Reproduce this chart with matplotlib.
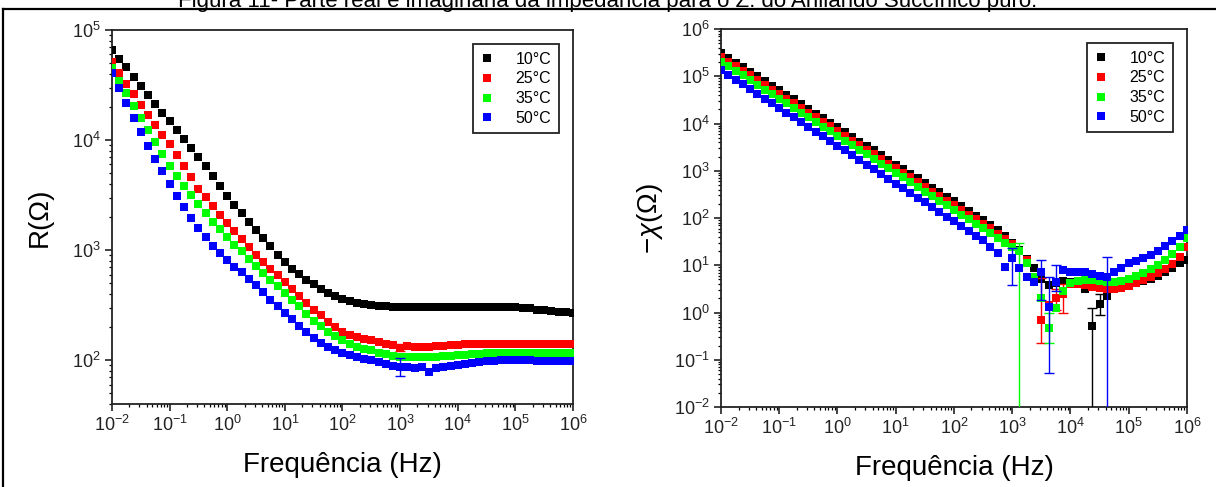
import numpy as np
import matplotlib
matplotlib.use("Agg")
import matplotlib.pyplot as plt
from matplotlib.lines import Line2D
from matplotlib.ticker import LogLocator

plt.rcParams['font.family'] = ['Liberation Sans', 'DejaVu Sans']
plt.rcParams['mathtext.fontset'] = 'custom'
plt.rcParams['mathtext.rm'] = 'Liberation Sans'
plt.rcParams['mathtext.it'] = 'Liberation Sans:italic'

# sweep: 8 points per decade, 10^-2 .. 10^6 Hz
freq = np.logspace(-2, 6, 65)

labels = ['10°C', '25°C', '35°C', '50°C']
colors = ['#000000', '#ff0000', '#00ff00', '#0000ff']

# real part R (log10 Ohm)
R_10C = [4.82, 4.74, 4.66, 4.57, 4.49, 4.41, 4.33, 4.25,
         4.17, 4.09, 4.01, 3.93, 3.85, 3.76, 3.67, 3.58,
         3.49, 3.41, 3.34, 3.26, 3.18, 3.11, 3.04, 2.96,
         2.89, 2.83, 2.78, 2.73, 2.69, 2.65, 2.61, 2.58,
         2.56, 2.54, 2.52, 2.51, 2.50, 2.49, 2.49, 2.48,
         2.48, 2.48, 2.48, 2.48, 2.48, 2.48, 2.48, 2.48,
         2.48, 2.48, 2.48, 2.48, 2.48, 2.48, 2.48, 2.48,
         2.48, 2.475, 2.47, 2.46, 2.455, 2.45, 2.44, 2.435,
         2.43]
R_25C = [4.71, 4.61, 4.51, 4.42, 4.32, 4.23, 4.14, 4.05,
         3.96, 3.86, 3.76, 3.66, 3.56, 3.48, 3.40, 3.32,
         3.245, 3.17, 3.10, 3.03, 2.955, 2.89, 2.83, 2.77,
         2.71, 2.65, 2.58, 2.52, 2.46, 2.41, 2.35, 2.30,
         2.26, 2.23, 2.21, 2.19, 2.18, 2.165, 2.15, 2.14,
         2.11, 2.13, 2.12, 2.12, 2.12, 2.125, 2.13, 2.135,
         2.14, 2.145, 2.145, 2.145, 2.145, 2.145, 2.145, 2.145,
         2.145, 2.145, 2.145, 2.145, 2.145, 2.145, 2.145, 2.145,
         2.145]
R_35C = [4.655, 4.54, 4.43, 4.31, 4.20, 4.09, 3.98, 3.87,
         3.76, 3.67, 3.58, 3.50, 3.42, 3.34, 3.26, 3.19,
         3.12, 3.05, 2.99, 2.92, 2.855, 2.79, 2.73, 2.67,
         2.61, 2.55, 2.49, 2.42, 2.36, 2.31, 2.26, 2.22,
         2.18, 2.15, 2.12, 2.10, 2.09, 2.07, 2.055, 2.04,
         2.03, 2.03, 2.025, 2.025, 2.027, 2.03, 2.035, 2.04,
         2.045, 2.05, 2.055, 2.06, 2.064, 2.064, 2.064, 2.064,
         2.064, 2.064, 2.064, 2.064, 2.064, 2.064, 2.064, 2.064,
         2.064]
R_50C = [4.61, 4.47, 4.34, 4.20, 4.07, 3.95, 3.83, 3.72,
         3.60, 3.49, 3.39, 3.29, 3.20, 3.12, 3.04, 2.97,
         2.91, 2.85, 2.80, 2.74, 2.68, 2.62, 2.55, 2.49,
         2.43, 2.37, 2.31, 2.26, 2.20, 2.16, 2.12, 2.09,
         2.07, 2.05, 2.03, 2.015, 2.00, 1.985, 1.97, 1.95,
         1.94, 1.935, 1.93, 1.935, 1.89, 1.93, 1.935, 1.945,
         1.955, 1.965, 1.975, 1.985, 1.99, 1.995, 2.0, 2.0,
         2.0, 2.0, 2.0, 1.995, 1.995, 1.99, 1.99, 1.99,
         1.99]

# imaginary part -X (log10 Ohm), right panel
X_10C = [5.49, 5.39, 5.29, 5.20, 5.10, 5.00, 4.90, 4.80,
         4.70, 4.61, 4.51, 4.41, 4.31, 4.21, 4.11, 4.02,
         3.92, 3.82, 3.72, 3.62, 3.53, 3.43, 3.33, 3.23,
         3.13, 3.04, 2.94, 2.84, 2.74, 2.64, 2.55, 2.45,
         2.35, 2.25, 2.15, 2.05, 1.96, 1.85, 1.74, 1.62,
         1.48, 1.32, 1.14, 0.95, 0.70, 0.58, 0.62, 0.66,
         0.64, 0.60, 0.50, -0.29, 0.18, 0.35, 0.52, 0.55,
         0.58, 0.62, 0.66, 0.71, 0.78, 0.86, 0.95, 1.04,
         1.11]
X_25C = [5.41, 5.31, 5.21, 5.12, 5.02, 4.92, 4.82, 4.72,
         4.62, 4.53, 4.43, 4.33, 4.23, 4.13, 4.03, 3.94,
         3.84, 3.74, 3.64, 3.54, 3.45, 3.35, 3.25, 3.15,
         3.05, 2.96, 2.86, 2.76, 2.66, 2.56, 2.47, 2.37,
         2.27, 2.17, 2.07, 1.98, 1.88, 1.78, 1.67, 1.56,
         1.44, 1.30, 1.12, 0.75, -0.15, 0.15, 0.30, 0.40,
         0.60, 0.60, 0.58, 0.55, 0.52, 0.50, 0.50, 0.52,
         0.56, 0.62, 0.68, 0.75, 0.83, 0.92, 1.03, 1.18,
         1.39]
X_35C = [5.31, 5.21, 5.11, 5.02, 4.92, 4.82, 4.72, 4.62,
         4.52, 4.43, 4.33, 4.23, 4.13, 4.03, 3.93, 3.84,
         3.74, 3.64, 3.54, 3.44, 3.35, 3.25, 3.15, 3.05,
         2.95, 2.86, 2.76, 2.66, 2.56, 2.46, 2.37, 2.27,
         2.17, 2.07, 1.97, 1.88, 1.78, 1.68, 1.58, 1.48,
         1.38, 1.30, 1.05, 0.75, 0.30, -0.33, 0.10, 0.45,
         0.62, 0.66, 0.68, 0.68, 0.66, 0.65, 0.65, 0.67,
         0.71, 0.77, 0.84, 0.92, 1.01, 1.11, 1.23, 1.38,
         1.58]
X_50C = [5.13, 5.03, 4.93, 4.83, 4.73, 4.63, 4.53, 4.43,
         4.33, 4.23, 4.13, 4.03, 3.93, 3.83, 3.73, 3.63,
         3.53, 3.43, 3.33, 3.23, 3.13, 3.03, 2.93, 2.83,
         2.73, 2.63, 2.53, 2.43, 2.33, 2.23, 2.13, 2.03,
         1.93, 1.83, 1.73, 1.63, 1.53, 1.39, 1.26, 0.96,
         1.15, 0.95, 0.75, 0.65, 0.86, 0.12, 0.65, 0.90,
         0.86, 0.86, 0.86, 0.82, 0.78, 0.75, 0.85, 0.95,
         1.05, 1.10, 1.16, 1.22, 1.30, 1.40, 1.52, 1.63,
         1.75]

# error bars: (series index, point index, log10 low, log10 high)
R_errbars = [(1, 40, 2.08, 2.15), (3, 40, 1.86, 2.02)]
X_errbars = [(2, 41, -3.0, 1.47), (2, 45, -0.65, 0.0),
             (1, 44, -0.65, 0.73), (1, 46, 0.05, 0.50), (1, 47, 0.0, 0.60),
             (0, 51, -3.0, 0.10), (0, 52, -0.05, 0.40),
             (3, 40, 0.58, 1.37), (3, 44, 0.26, 1.11), (3, 45, -1.28, 0.75),
             (3, 46, 0.45, 1.00), (3, 53, -3.0, 1.17)]

R_data = [R_10C, R_25C, R_35C, R_50C]
X_data = [X_10C, X_25C, X_35C, X_50C]


def draw(ax, data, errbars):
    for (i, col) in enumerate(colors):
        y = 10 ** np.array(data[i])
        ax.plot(freq, y, 's', color=col, ms=6.4, mew=0, label=labels[i], zorder=3 + i)
    for (i, k, lo, hi) in errbars:
        y = 10 ** data[i][k]
        ax.errorbar([freq[k]], [y], yerr=[[y - 10 ** lo], [10 ** hi - y]], fmt='none',
                    ecolor=colors[i], elinewidth=1, capsize=3.5, capthick=1, zorder=3 + i)
    ax.set_xscale('log')
    ax.set_yscale('log')
    ax.set_xlim(1e-2, 1e6)
    ax.xaxis.set_major_locator(LogLocator(base=10, numticks=20))
    ax.yaxis.set_major_locator(LogLocator(base=10, numticks=20))
    ax.xaxis.set_minor_locator(LogLocator(base=10, subs=np.arange(2, 10), numticks=20))
    ax.yaxis.set_minor_locator(LogLocator(base=10, subs=np.arange(2, 10), numticks=20))
    ax.tick_params(which='major', direction='out', length=5, width=1.2, labelsize=13,
                   colors='#222222', pad=3)
    ax.tick_params(which='minor', direction='out', length=2.5, width=0.9)
    for s in ax.spines.values():
        s.set_linewidth(1.3)
        s.set_color('#222222')
    ax.set_xlabel('Frequência (Hz)', fontsize=20, labelpad=12)
    leg = ax.legend(loc='upper right', fontsize=11.5, frameon=True, fancybox=False,
                    edgecolor='#222222', framealpha=1, handlelength=0.8,
                    handletextpad=1.4, borderpad=0.45, labelspacing=0.3,
                    borderaxespad=0.9, markerscale=0.85)
    leg.get_frame().set_linewidth(1.3)


fig = plt.figure(figsize=(12.16, 4.87), dpi=100)
ax1 = fig.add_axes([0.0921, 0.1704, 0.3791, 0.768])
ax2 = fig.add_axes([0.5929, 0.1643, 0.3832, 0.776])

draw(ax1, R_data, R_errbars)
ax1.set_ylim(40, 1e5)
ax1.set_ylabel('R(Ω)', fontsize=20)
ax1.yaxis.set_label_coords(-0.128, 0.5)

draw(ax2, X_data, X_errbars)
ax2.set_ylim(1e-2, 1e6)
ax2.set_ylabel(r'$-\chi(\Omega)$', fontsize=20)
ax2.yaxis.set_label_coords(-0.12, 0.5)

# page frame and the cut-off caption above it
fig.add_artist(Line2D([3 / 1216, 1], [1 - 9 / 487, 1 - 9 / 487], color='black', lw=1.6))
fig.add_artist(Line2D([3 / 1216, 3 / 1216], [0, 1 - 9 / 487], color='black', lw=1.6))
fig.text(0.5, 1 - 7 / 487,
         'Figura 11- Parte real e imaginária da impedância para o Z. do Anilando Succínico puro.',
         ha='center', va='baseline', fontsize=16)

fig.savefig('out.png', dpi=100)
